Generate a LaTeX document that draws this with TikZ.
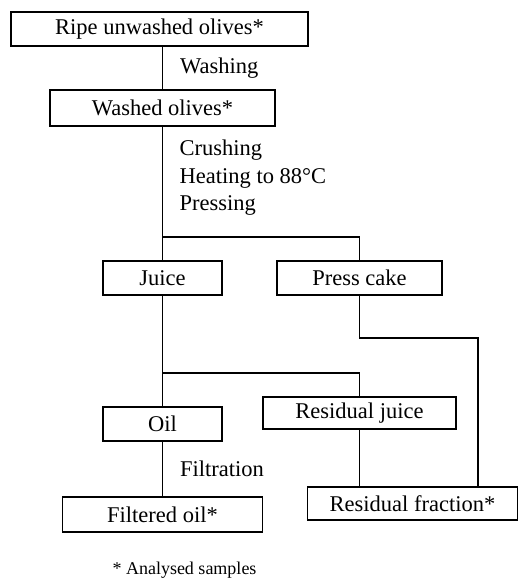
\documentclass[tikz,border=0pt]{standalone}
\usepackage{fontspec}
\setmainfont{Liberation Serif}
\usetikzlibrary{calc}

\begin{document}
\begin{tikzpicture}[x=1pt, y=-1pt, line width=1.3pt, font=\fontsize{22.5pt}{27.5pt}\selectfont,
        main/.style = {draw, rectangle, inner sep=0pt, minimum height=34},
        note/.style = {anchor=west, inner sep=0pt, align=left}]
        \useasboundingbox (0,0) rectangle (518,579);
        \node[main, minimum width=297] (ripe) at (159.5,29) {Ripe unwashed olives*};
        \node[main, minimum width=225, minimum height=36] (washed) at (162.5,108) {Washed olives*};
        \node[main, minimum width=119] (juice) at (162.5,278) {Juice};
        \node[main, minimum width=165] (cake) at (359.5,278) {Press cake};
        \node[main, minimum width=119] (oil) at (162.5,424) {Oil};
        \node[main, minimum width=193, minimum height=32] (resjuice) at (359.5,413) {Residual juice};
        \node[main, minimum width=210, minimum height=33] (resfrac) at (412.5,503.5) {Residual fraction*};
        \node[main, minimum width=200, minimum height=35] (filtered) at (162.5,514.5) {Filtered oil*};
        \node[note] (steps) at (179,178) {Crushing\\Heating to 88°C\\Pressing};
        \node[font=\fontsize{18pt}{22pt}\selectfont] (key) at (184.5,570) {* Analysed samples};
        \coordinate (fork1) at (162.5,237);
        \coordinate (fork2) at (162.5,373);
        \coordinate (elbow) at (478,338);
        \draw (ripe.south -| washed.north) to node[note, xshift=17pt] (washing) {Washing} (washed.north);
        \draw (washed.south) -- (juice.north);
        \draw (fork1) -| (cake.north);
        \draw (juice.south) -- (oil.north);
        \draw (fork2) -| (resjuice.north);
        \draw (oil.south) to node[note, xshift=17pt] (filtration) {Filtration} (filtered.north);
        \draw (resjuice.south) -- (resjuice.south |- resfrac.north);
        \draw (cake.south) |- (elbow) -- (elbow |- resfrac.north);
    \end{tikzpicture}
\end{document}
